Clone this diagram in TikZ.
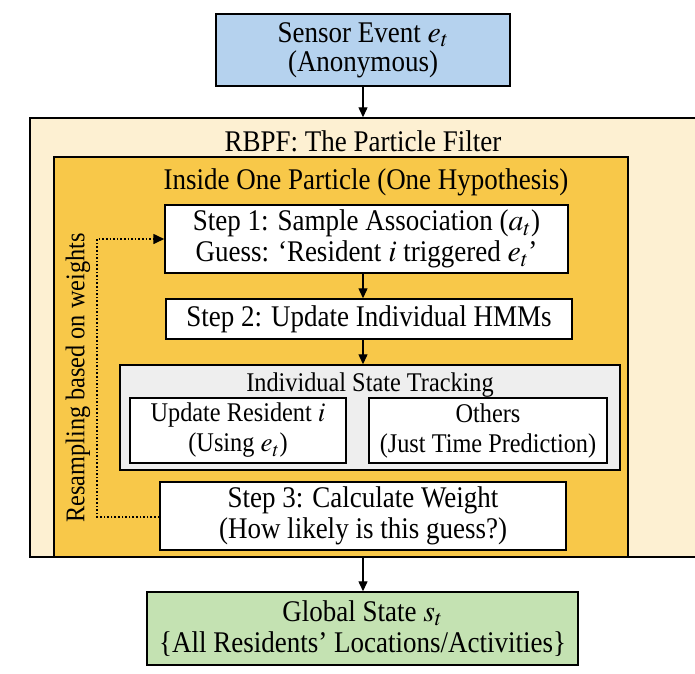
\documentclass[tikz,border=0pt]{standalone}
\usepackage{mathptmx}
\usepackage{fontspec}
\setmainfont{Liberation Serif}[FakeStretch=0.9]
\usetikzlibrary{arrows.meta}
\definecolor{sensorblue}{HTML}{B5D2EE}
\definecolor{cream}{HTML}{FDF0D2}
\definecolor{golden}{HTML}{F8C849}
\definecolor{trackgrey}{HTML}{EEEEEE}
\definecolor{globalgreen}{HTML}{C4E2B2}
\tikzset{
  box/.style={draw=black, line width=1.5pt, rectangle, align=center, inner sep=0pt,
    font=\fontsize{30}{31}\selectfont},
  smallbox/.style={box, font=\fontsize{27}{30}\selectfont},
  container/.style={draw=black, line width=1.5pt, rectangle, inner sep=0pt},
  titletext/.style={font=\fontsize{30}{30}\selectfont, inner sep=0pt},
  smalltitle/.style={font=\fontsize{27}{30}\selectfont, inner sep=0pt},
  arr/.style={line width=1.4pt, -{Triangle[length=10pt,width=9pt]}},
  dotarr/.style={line width=1.6pt, dash pattern=on 1.6pt off 2pt, -{Triangle[length=11pt,width=10pt]}},
}
\begin{document}
\begin{tikzpicture}[x=1pt,y=-1pt]
\useasboundingbox (0,0) rectangle (695,673);
\fill[white] (0,0) rectangle (695,673);
\begin{scope}
\clip (0,0) rectangle (695,673);
% containers
\node[container, fill=cream, minimum width=672, minimum height=439] (rbpf) at (366,337.5) {};
\node[titletext] (rbpftitle) at (363,141) {RBPF: The Particle Filter};
\node[container, fill=golden, minimum width=574, minimum height=400] (particle) at (341,357) {};
\node[titletext] (particletitle) at (366,182) {Inside One Particle (One Hypothesis)};
% top and bottom
\node[box, fill=sensorblue, minimum width=294, minimum height=72] (sensor) at (363,50) {\raisebox{-2pt}{Sensor Event $e_t$}\\(Anonymous)};
\node[box, fill=globalgreen, minimum width=431, minimum height=73] (global) at (362.5,628.5) {Global State $s_t$\\\{All Residents’ Locations/Activities\}};
% steps
\node[box, fill=white, minimum width=403, minimum height=68] (step1) at (366.5,239) {Step 1: Sample Association ($a_t$)\\Guess: ‘Resident $i$ triggered $e_t$’};
\node[box, fill=white, minimum width=406, minimum height=40] (step2) at (369,319) {Step 2: Update Individual HMMs};
\node[container, fill=trackgrey, minimum width=500, minimum height=105] (tracking) at (370,417.5) {};
\node[smalltitle] (trackingtitle) at (370,385) {Individual State Tracking};
\node[smallbox, fill=white, minimum width=216, minimum height=65] (resident) at (238,430.5) {Update Resident $i$\\(Using $e_t$)};
\node[smallbox, fill=white, minimum width=238, minimum height=65] (others) at (488,430.5) {Others\\(Just Time Prediction)};
\node[box, fill=white, minimum width=406, minimum height=68] (step3) at (363,516) {Step 3: Calculate Weight\\(How likely is this guess?)};
% connectors
\draw[arr] (sensor.south) -- (sensor.south |- rbpf.north);
\draw[arr] (step1.south -| 363,0) -- (363,0 |- step2.north);
\draw[arr] (step2.south -| 363,0) -- (363,0 |- tracking.north);
\draw[arr] (363,0 |- particle.south) -- (363,0 |- global.north);
\coordinate (loopbottom) at (97,517);
\coordinate (looptop) at (97,239);
\draw[dotarr] (step3.west |- loopbottom) -- (loopbottom) -- (looptop) -- (step1.west);
\node[smalltitle, rotate=90] (resample) at (78,378) {Resampling based on weights};
\end{scope}
\end{tikzpicture}
\end{document}
